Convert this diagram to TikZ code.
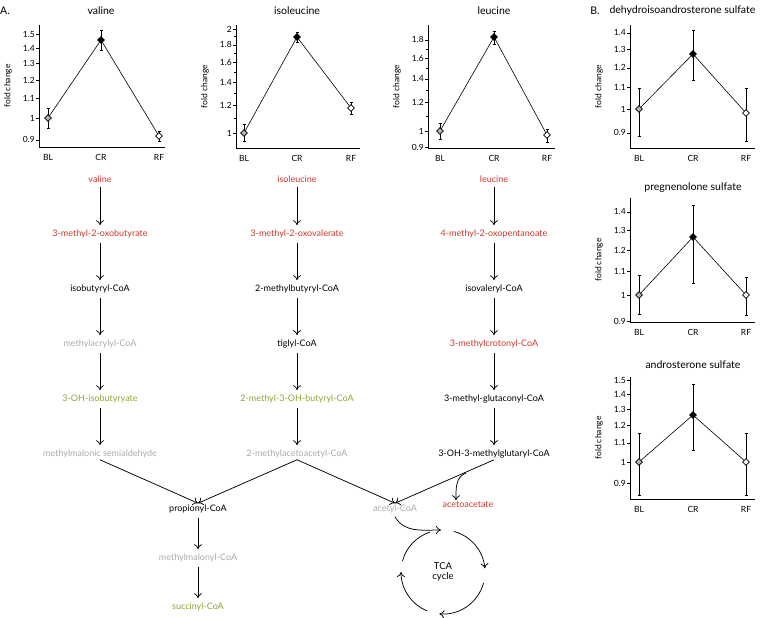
\documentclass[tikz,border=0pt]{standalone}
\usepackage{fontspec}
\setmainfont{Lato}
\usetikzlibrary{shapes.geometric,arrows.meta}
\definecolor{aared}{RGB}{205,55,45}
\definecolor{aagreen}{RGB}{140,165,55}
\definecolor{aagrey}{RGB}{170,170,170}
\tikzset{
  met/.style={font=\fontsize{9}{10}\selectfont, inner sep=1.5pt},
  up/.style={met, text=aared},
  down/.style={met, text=aagreen},
  nd/.style={met, text=aagrey},
  conv/.style={-{To[length=5pt,width=8pt]}, line width=0.75pt},
  tick/.style={font=\fontsize{8.5}{9}\selectfont, inner sep=1pt},
  ttl/.style={font=\fontsize{10.5}{12}\selectfont},
  pt/.style={diamond, draw, inner sep=0pt, minimum size=7pt, line width=0.6pt},
}
% one fold change plot; pixel coordinates set by \def's before the call
\newcommand\fcplot[4]{%
  \draw[line width=0.6pt] (\pX,\pTop) -- (\pX,\pBot) -- (\pR,\pBot);
  \foreach \v in {#1} {
    \draw[line width=0.5pt] (\pX,{\pY-\pK*ln(\v)}) -- ++(-3,0);
    \node[tick, anchor=east] at (\pX-3,{\pY-\pK*ln(\v)}) {\v};
  }
  \foreach \v in {#2} \draw[line width=0.5pt] (\pX,{\pY-\pK*ln(\v)}) -- ++(-2,0);
  \node[tick, rotate=90] at (\pX-31,{(\pTop+\pBot)/2}) {fold change};
  \foreach \xx/\yy/\lo/\hi/\lab/\col in {#3} {
    \draw[line width=0.8pt] (\xx,\lo) -- (\xx,\hi);
    \draw[line width=0.7pt] (\xx-1.5,\lo) -- (\xx+1.5,\lo) (\xx-1.5,\hi) -- (\xx+1.5,\hi);
    \node[tick] at (\xx,\pBot+10) {\lab};
  }
  \draw[line width=0.6pt] #4;
  \foreach \xx/\yy/\lo/\hi/\lab/\col in {#3}
    \node[pt, fill=\col] at (\xx,\yy) {};
}

\begin{document}
\begin{tikzpicture}[x=1pt, y=-1pt]
\useasboundingbox (0,0) rectangle (777,618);

% A. plots
\node[ttl, anchor=west, inner sep=0pt] at (0,11) {A.};
\node[ttl] at (101,11) {valine};
\node[ttl] at (297,11) {isoleucine};
\node[ttl] at (494,11) {leucine};

\def\pX{39}\def\pR{165}\def\pTop{25}\def\pBot{147}\def\pY{118}\def\pK{207}
\fcplot{0.9,1,1.1,1.2,1.3,1.4,1.5}{}
  {48/118/108/128/BL/gray!60, 101/40/30/50/CR/black, 159/136/131/141/RF/white}
  {(48,118) -- (101,40) -- (159,136)}

\def\pX{236}\def\pR{360}\def\pTop{25}\def\pBot{148}\def\pY{133}\def\pK{150}
\fcplot{1,1.2,1.4,1.6,1.8,2}{1.1,1.3,1.5,1.7,1.9}
  {244/133/124/141/BL/gray!60, 297/37/32/42/CR/black, 351/108/102/114/RF/white}
  {(244,133) -- (297,37) -- (351,108)}

\def\pX{428}\def\pR{555}\def\pTop{25}\def\pBot{148}\def\pY{131}\def\pK{155}
\fcplot{0.9,1,1.2,1.4,1.6,1.8}{1.1,1.3,1.5,1.7}
  {440/131/123/139/BL/gray!60, 494/37/31/44/CR/black, 547/135/129/142/RF/white}
  {(440,131) -- (494,37) -- (547,135)}

% B. plots
\node[ttl] at (595,11) {B.};
\node[ttl, anchor=west] at (606,11) {dehydroisoandrosterone sulfate};
\node[ttl] at (693,188) {pregnenolone sulfate};
\node[ttl] at (693,365) {androsterone sulfate};

\def\pX{630}\def\pR{755}\def\pTop{25}\def\pBot{148}\def\pY{109}\def\pK{226}
\fcplot{0.9,1,1.1,1.2,1.3,1.4}{}
  {639/109/88/136/BL/gray!60, 693/54/30/80/CR/black, 746/113/88/141/RF/white}
  {(639,109) -- (693,54) -- (746,113)}

\def\pX{630}\def\pR{755}\def\pTop{198}\def\pBot{322}\def\pY{295}\def\pK{247}
\fcplot{0.9,1,1.1,1.2,1.3,1.4}{}
  {639/295/275/314/BL/gray!60, 693/237/205/283/CR/black, 746/295/277/315/RF/white}
  {(639,295) -- (693,237) -- (746,295)}

\def\pX{630}\def\pR{755}\def\pTop{377}\def\pBot{499}\def\pY{462}\def\pK{202}
\fcplot{0.9,1,1.1,1.2,1.3,1.4,1.5}{}
  {639/462/433/495/BL/gray!60, 693/415/384/450/CR/black, 746/462/433/495/RF/white}
  {(639,462) -- (693,415) -- (746,462)}

% pathways
\node[up]   (val)  at (100,179) {valine};
\node[up]   (mob)  at (100,234) {3-methyl-2-oxobutyrate};
\node[met]  (ibc)  at (100,289) {isobutyryl-CoA};
\node[nd]   (mac)  at (100,344) {methylacrylyl-CoA};
\node[down] (ohib) at (100,399) {3-OH-isobutyryate};
\node[nd]   (msa)  at (100,454) {methylmalonic semialdehyde};

\node[up]   (ile)  at (297,179) {isoleucine};
\node[up]   (mov)  at (297,234) {3-methyl-2-oxovalerate};
\node[met]  (mbc)  at (297,289) {2-methylbutyryl-CoA};
\node[met]  (tig)  at (297,344) {tiglyl-CoA};
\node[down] (mohb) at (297,399) {2-methyl-3-OH-butyryl-CoA};
\node[nd]   (maa)  at (297,454) {2-methylacetoacetyl-CoA};

\node[up]   (leu)  at (494,179) {leucine};
\node[up]   (mop)  at (494,234) {4-methyl-2-oxopentanoate};
\node[met]  (ivc)  at (494,289) {isovaleryl-CoA};
\node[up]   (mcc)  at (494,344) {3-methylcrotonyl-CoA};
\node[met]  (mgc)  at (494,399) {3-methyl-glutaconyl-CoA};
\node[met]  (hmg)  at (494,454) {3-OH-3-methylglutaryl-CoA};

\node[met]  (prop) at (198,509) {propionyl-CoA};
\node[nd]   (mmc)  at (198,558) {methylmalonyl-CoA};
\node[down] (suc)  at (198,607) {succinyl-CoA};
\node[nd]   (acc)  at (395,509) {acetyl-CoA};
\node[up]   (aca)  at (468,505) {acetoacetate};

\foreach \a/\b in {val/mob, mob/ibc, ibc/mac, mac/ohib, ohib/msa,
                   ile/mov, mov/mbc, mbc/tig, tig/mohb, mohb/maa,
                   leu/mop, mop/ivc, ivc/mcc, mcc/mgc, mgc/hmg,
                   prop/mmc, mmc/suc}
  \draw[conv] ([yshift=-3pt]\a.south) -- ([yshift=3pt]\b.north);

\draw[conv] (msa.south) -- (prop.north);
\draw[conv] (maa.south) -- (prop.north);
\draw[conv] (maa.south) -- (acc.north);
\draw[conv] (hmg.south) -- (acc.north);
\coordinate (split) at (466,473);
\draw[conv] (split) to[out=200, in=90] ([xshift=-12pt]aca.north);

% TCA cycle
\coordinate (tca) at (443,572);
\coordinate (tcatop) at (441,530);
\node[font=\fontsize{9.5}{11}\selectfont, align=center] (tcal) at (tca) {TCA\\[-1pt]cycle};
\draw[conv] ([yshift=-2pt]acc.south) to[out=-60, in=180] (tcatop);
\draw[conv] (tca) ++(-75:42) arc[start angle=-75, end angle=-5, radius=42];
\draw[conv] (tca) ++(15:42) arc[start angle=15, end angle=95, radius=42];
\draw[conv] (tca) ++(112:42) arc[start angle=112, end angle=180, radius=42];
\draw[line width=0.75pt] (tca) ++(-165:42) arc[start angle=-165, end angle=-108, radius=42];
\end{tikzpicture}
\end{document}
